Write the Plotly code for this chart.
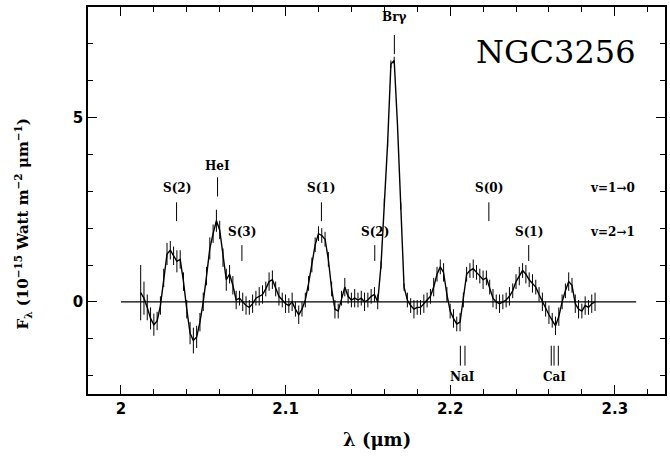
import plotly.graph_objects as go

# ---------------- data ----------------
wave = [
    2.012, 2.014, 2.016, 2.018, 2.020, 2.022, 2.024, 2.026, 2.028, 2.030,
    2.032, 2.034, 2.036, 2.038, 2.040, 2.042, 2.044, 2.046, 2.048, 2.050,
    2.052, 2.054, 2.056, 2.058, 2.060, 2.062, 2.064, 2.066, 2.068, 2.070,
    2.072, 2.074, 2.076, 2.078, 2.080, 2.082, 2.084, 2.086, 2.088, 2.090,
    2.092, 2.094, 2.096, 2.098, 2.100, 2.102, 2.104, 2.106, 2.108, 2.110,
    2.112, 2.114, 2.116, 2.118, 2.120, 2.122, 2.124, 2.126, 2.128, 2.130,
    2.132, 2.134, 2.136, 2.138, 2.140, 2.142, 2.144, 2.146, 2.148, 2.150,
    2.152, 2.154, 2.156, 2.158, 2.160, 2.162, 2.164, 2.166, 2.168, 2.170,
    2.172, 2.174, 2.176, 2.178, 2.180, 2.182, 2.184, 2.186, 2.188, 2.190,
    2.192, 2.194, 2.196, 2.198, 2.200, 2.202, 2.204, 2.206, 2.208, 2.210,
    2.212, 2.214, 2.216, 2.218, 2.220, 2.222, 2.224, 2.226, 2.228, 2.230,
    2.232, 2.234, 2.236, 2.238, 2.240, 2.242, 2.244, 2.246, 2.248, 2.250,
    2.252, 2.254, 2.256, 2.258, 2.260, 2.262, 2.264, 2.266, 2.268, 2.270,
    2.272, 2.274, 2.276, 2.278, 2.280, 2.282, 2.284, 2.286, 2.288,
]
flux = [
    0.25, 0.10, -0.15, -0.45, -0.62, -0.52, -0.10, 0.65, 1.30, 1.40,
    1.25, 1.10, 1.15, 0.55, -0.20, -0.85, -1.05, -0.95, -0.55, 0.00,
    0.70, 1.45, 1.85, 2.20, 1.95, 1.20, 0.60, 0.75, 0.45, 0.05,
    0.10, 0.00, -0.10, -0.15, -0.05, 0.10, 0.15, 0.20, 0.35, 0.55,
    0.60, 0.35, 0.15, 0.05, -0.05, -0.10, 0.00, -0.20, -0.35, -0.20,
    0.05, 0.50, 1.00, 1.55, 1.85, 1.80, 1.70, 1.15, 0.35, -0.20,
    -0.25, 0.10, 0.40, 0.15, 0.05, 0.10, 0.05, 0.10, 0.00, 0.05,
    0.15, 0.20, 0.00, 1.00, 2.70, 4.30, 6.45, 6.55, 4.80, 2.60,
    0.40, 0.05, -0.10, -0.20, -0.15, -0.15, -0.05, 0.05, 0.15, 0.40,
    0.75, 0.95, 0.80, 0.20, -0.25, -0.45, -0.60, -0.55, 0.05, 0.75,
    0.85, 0.90, 0.80, 0.70, 0.60, 0.65, 0.40, 0.10, 0.00, -0.05,
    0.00, 0.05, 0.15, 0.30, 0.55, 0.70, 0.85, 0.75, 0.60, 0.50,
    0.40, 0.20, 0.00, -0.20, -0.35, -0.50, -0.65, -0.40, 0.00, 0.30,
    0.55, 0.45, -0.05, -0.20, -0.25, -0.10, -0.15, -0.05, 0.00,
]
err = [
    0.75, 0.45, 0.35, 0.30, 0.30, 0.25, 0.25, 0.25, 0.30, 0.25,
    0.25, 0.30, 0.25, 0.25, 0.25, 0.30, 0.35, 0.30, 0.25, 0.25,
    0.25, 0.30, 0.25, 0.30, 0.25, 0.25, 0.30, 0.25, 0.25, 0.25,
    0.20, 0.25, 0.25, 0.20, 0.25, 0.20, 0.25, 0.25, 0.20, 0.25,
    0.25, 0.20, 0.25, 0.20, 0.25, 0.20, 0.25, 0.20, 0.25, 0.20,
    0.20, 0.20, 0.20, 0.20, 0.20, 0.20, 0.20, 0.20, 0.20, 0.25,
    0.20, 0.20, 0.25, 0.20, 0.20, 0.25, 0.20, 0.20, 0.25, 0.20,
    0.20, 0.20, 0.20, 0.10, 0.10, 0.10, 0.10, 0.10, 0.10, 0.10,
    0.10, 0.20, 0.20, 0.25, 0.20, 0.20, 0.25, 0.20, 0.20, 0.25,
    0.20, 0.20, 0.25, 0.20, 0.20, 0.25, 0.20, 0.25, 0.20, 0.20,
    0.20, 0.25, 0.20, 0.20, 0.25, 0.20, 0.20, 0.25, 0.20, 0.25,
    0.20, 0.20, 0.25, 0.20, 0.20, 0.25, 0.20, 0.25, 0.20, 0.25,
    0.20, 0.20, 0.25, 0.20, 0.25, 0.20, 0.25, 0.25, 0.20, 0.20,
    0.25, 0.20, 0.25, 0.25, 0.20, 0.25, 0.20, 0.25, 0.25,
]

# line identifications: name, wavelength, label y, tick bottom, tick top
line_names = ["S(2)", "HeI", "S(3)", "S(1)", "S(2)", "Brγ", "S(0)", "S(1)"]
line_waves = [2.0338, 2.0587, 2.0735, 2.1218, 2.1542, 2.1661, 2.2235, 2.2477]
label_y = [3.10, 3.68, 1.90, 3.10, 1.90, 7.72, 3.10, 1.90]
tick_lo = [2.19, 2.86, 1.11, 2.19, 1.11, 6.72, 2.19, 1.11]
tick_hi = [2.70, 3.38, 1.54, 2.70, 1.54, 7.24, 2.70, 1.54]

abs_names = ["NaI", "CaI"]
abs_waves = [[2.2062, 2.2090], [2.2614, 2.2631, 2.2657]]
abs_lo, abs_hi, abs_label_y = -1.73, -1.19, -2.03

trans_labels = ["v=1→0", "v=2→1"]
trans_y = [3.10, 1.90]
trans_x = 2.2985

continuum_x = [2.000, 2.313]
continuum_y = [0.0, 0.0]

x_range = [1.980, 2.3305]
y_range = [-2.5, 8.0]

# ---------------- figure ----------------
fig = go.Figure()

fig.add_trace(go.Scatter(
    x=continuum_x, y=continuum_y, mode="lines",
    line=dict(color="black", width=1.2), hoverinfo="skip", showlegend=False))

fig.add_trace(go.Scatter(
    x=wave, y=flux, mode="lines",
    line=dict(color="black", width=1.4),
    error_y=dict(type="data", array=err, visible=True, color="black",
                 thickness=1, width=0),
    showlegend=False))

lab_font = dict(family="DejaVu Serif", size=12, color="black", weight="bold")

shapes = []
annotations = []
for name, w, ly, lo, hi in zip(line_names, line_waves, label_y, tick_lo, tick_hi):
    shapes.append(dict(type="line", xref="x", yref="y", x0=w, x1=w, y0=lo, y1=hi,
                       line=dict(color="black", width=1)))
    annotations.append(dict(x=w, y=ly, xref="x", yref="y", text=name, showarrow=False,
                            font=lab_font, xanchor="center", yanchor="middle"))

for name, ws in zip(abs_names, abs_waves):
    for w in ws:
        shapes.append(dict(type="line", xref="x", yref="y", x0=w, x1=w,
                           y0=abs_lo, y1=abs_hi, line=dict(color="black", width=1)))
    annotations.append(dict(x=sum(ws) / len(ws), y=abs_label_y, xref="x", yref="y",
                            text=name, showarrow=False, font=lab_font,
                            xanchor="center", yanchor="middle"))

for t, ty in zip(trans_labels, trans_y):
    annotations.append(dict(x=trans_x, y=ty, xref="x", yref="y", text=t, showarrow=False,
                            font=lab_font, xanchor="center", yanchor="middle"))

annotations.append(dict(x=0.81, y=0.884, xref="paper", yref="paper", text="NGC3256",
                        showarrow=False, xanchor="center", yanchor="middle",
                        font=dict(family="DejaVu Serif", size=32, color="black")))

annotations.append(dict(x=0.5, y=-0.118, xref="paper", yref="paper",
                        text="λ (μm)", showarrow=False, xanchor="center",
                        yanchor="middle",
                        font=dict(family="DejaVu Serif", size=18, color="black",
                                  weight="bold")))
annotations.append(dict(x=-0.113, y=0.44, xref="paper", yref="paper",
                        text="F<sub>λ</sub> (10<sup>−15</sup> Watt m<sup>−2</sup> μm<sup>−1</sup>)",
                        showarrow=False, textangle=-90, xanchor="center",
                        yanchor="middle",
                        font=dict(family="DejaVu Serif", size=15, color="black",
                                  weight="bold")))

axis_common = dict(showgrid=False, zeroline=False, showline=True, linecolor="black",
                   linewidth=1.5, mirror="ticks", ticks="inside", tickcolor="black",
                   tickwidth=1.2, ticklen=9,
                   tickfont=dict(family="DejaVu Sans", size=15, color="black",
                                 weight="bold"))

fig.update_layout(
    width=670, height=457,
    margin=dict(l=88, r=3, t=7, b=63),
    paper_bgcolor="white", plot_bgcolor="white",
    shapes=shapes, annotations=annotations,
    xaxis=dict(range=x_range, tickvals=[2.0, 2.1, 2.2, 2.3],
               ticktext=["2", "2.1", "2.2", "2.3"],
               minor=dict(dtick=0.02, tick0=2.0, ticks="inside", ticklen=5,
                          tickcolor="black", tickwidth=1.2),
               **axis_common),
    yaxis=dict(range=y_range, tickvals=[0, 5], ticktext=["0", "5"],
               minor=dict(dtick=1, tick0=0, ticks="inside", ticklen=5,
                          tickcolor="black", tickwidth=1.2),
               **axis_common),
)

fig.write_html("out.html",
               config={"displayModeBar": False},
               post_script="document.body.style.margin='0px';"
                           "document.body.style.overflow='hidden';")
